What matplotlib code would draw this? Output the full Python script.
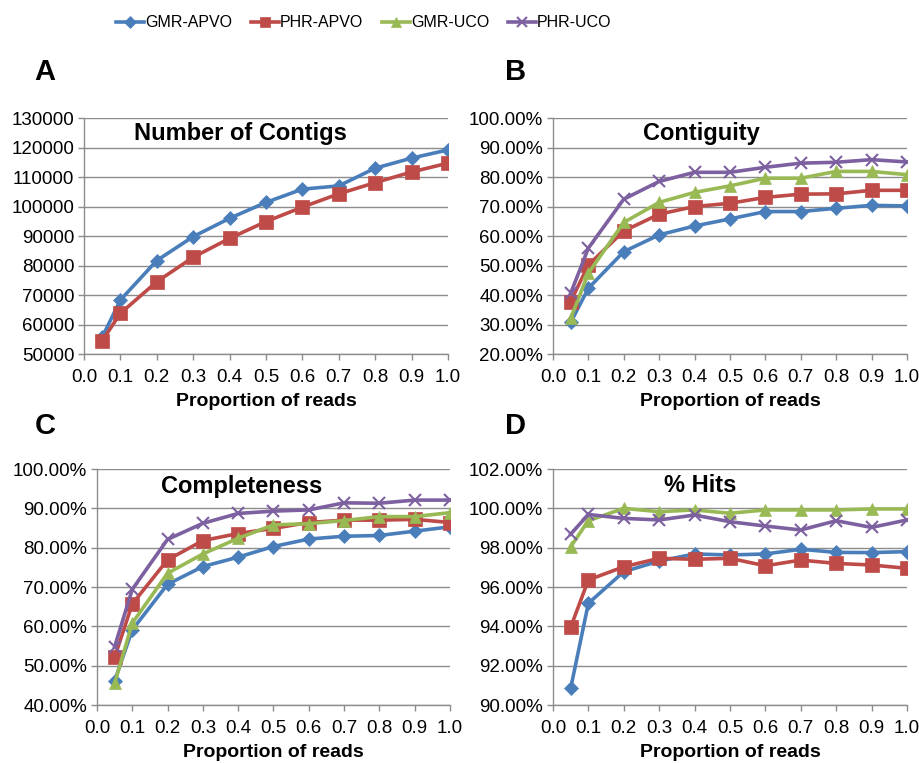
import matplotlib
matplotlib.use('Agg')
import matplotlib.pyplot as plt
from matplotlib.ticker import FuncFormatter
from matplotlib import font_manager
import numpy as np

plt.rcParams['font.family'] = ['Liberation Sans', 'DejaVu Sans']

# proportion of reads
props = [0.05, 0.1, 0.2, 0.3, 0.4, 0.5, 0.6, 0.7, 0.8, 0.9, 1.0]

# A: number of contigs
contigs_gmr_apvo = [55700, 68300, 81700, 89800, 96000, 101400, 105900, 107000, 113000, 116400, 119200]
contigs_phr_apvo = [54500, 63800, 74500, 82800, 89200, 94900, 99800, 104300, 108100, 111700, 114700]

# B: contiguity (%)
contig_gmr_apvo = [30.7, 42.3, 54.7, 60.4, 63.4, 65.8, 68.3, 68.3, 69.4, 70.4, 70.2]
contig_phr_apvo = [37.8, 50.2, 61.7, 67.4, 70.0, 71.1, 73.1, 74.2, 74.3, 75.5, 75.5]
contig_gmr_uco = [32.1, 47.4, 64.6, 71.4, 74.8, 77.0, 79.6, 79.6, 81.9, 81.9, 80.8]
contig_phr_uco = [40.6, 55.9, 72.5, 78.5, 81.6, 81.6, 83.3, 84.7, 85.0, 85.9, 85.1]

# C: completeness (%)
compl_gmr_apvo = [46.1, 59.1, 70.7, 75.2, 77.6, 80.3, 82.2, 82.9, 83.1, 84.2, 85.3]
compl_phr_apvo = [52.1, 65.7, 76.9, 81.8, 83.6, 84.9, 86.4, 87.0, 87.0, 87.2, 86.4]
compl_gmr_uco = [45.5, 60.8, 73.5, 78.4, 82.4, 85.8, 86.1, 86.9, 87.9, 87.9, 88.9]
compl_phr_uco = [54.8, 69.4, 82.1, 86.2, 88.7, 89.3, 89.6, 91.4, 91.3, 92.1, 92.1]

# D: % hits
hits_gmr_apvo = [90.85, 95.17, 96.78, 97.32, 97.68, 97.63, 97.68, 97.92, 97.76, 97.75, 97.80]
hits_phr_apvo = [93.95, 96.36, 97.03, 97.46, 97.41, 97.46, 97.08, 97.37, 97.20, 97.12, 96.95]
hits_gmr_uco = [98.05, 99.37, 100.0, 99.83, 99.92, 99.75, 99.92, 99.92, 99.92, 99.97, 99.97]
hits_phr_uco = [98.69, 99.69, 99.49, 99.41, 99.66, 99.32, 99.10, 98.90, 99.37, 99.03, 99.41]

names = ['GMR-APVO', 'PHR-APVO', 'GMR-UCO', 'PHR-UCO']
colors = ['#4A7EBB', '#BE4B48', '#98B954', '#7D60A0']
markers = ['D', 's', '^', 'x']
msizes = [7.5, 9.5, 9, 9]

fig = plt.figure(figsize=(9.19, 7.63), dpi=100)

axA = fig.add_axes([0.0914, 0.5360, 0.396, 0.3093])
axB = fig.add_axes([0.6017, 0.5360, 0.3852, 0.3093])
axC = fig.add_axes([0.1055, 0.0760, 0.3841, 0.3093])
axD = fig.add_axes([0.6017, 0.0760, 0.3852, 0.3093])


def draw(ax, series):
    lines = []
    for i, ys in enumerate(series):
        l, = ax.plot(props, ys, color=colors[i], lw=2.6, marker=markers[i],
                     ms=msizes[i], mew=1.5 if markers[i] == 'x' else 0.5,
                     mec=colors[i], label=names[i], zorder=3 + i)
        lines.append(l)
    return lines


def style(ax, ylo, yhi, ystep, title, tx, ty, pct=True):
    ax.set_xlim(0, 1.0)
    ax.set_ylim(ylo, yhi)
    ax.set_xticks(np.arange(0, 1.01, 0.1))
    ax.xaxis.set_major_formatter(FuncFormatter(lambda v, p: '%.1f' % v))
    ax.set_yticks(np.arange(ylo, yhi + ystep / 2, ystep))
    if pct:
        ax.yaxis.set_major_formatter(FuncFormatter(lambda v, p: '%.2f%%' % v))
    else:
        ax.yaxis.set_major_formatter(FuncFormatter(lambda v, p: '%d' % v))
    ax.grid(axis='y', color='#8c8c8c', lw=1.0)
    ax.set_axisbelow(True)
    for s in ['top', 'right']:
        ax.spines[s].set_visible(False)
    for s in ['left', 'bottom']:
        ax.spines[s].set_color('#8c8c8c')
        ax.spines[s].set_linewidth(1.0)
    ax.tick_params(axis='both', colors='#8c8c8c', labelcolor='black',
                   labelsize=13.5, length=4, width=1.0)
    ax.tick_params(axis='x', pad=7)
    ax.tick_params(axis='y', pad=3)
    ax.text(tx, ty, title, transform=ax.transAxes, ha='center', va='center',
            fontsize=17, fontweight='bold')
    ax.set_xlabel('Proportion of reads', fontsize=14, fontweight='bold', labelpad=5)


lines = draw(axA, [contigs_gmr_apvo, contigs_phr_apvo])
style(axA, 50000, 130000, 10000, 'Number of Contigs', 0.43, 0.935, pct=False)

lines = draw(axB, [contig_gmr_apvo, contig_phr_apvo, contig_gmr_uco, contig_phr_uco])
style(axB, 20, 100, 10, 'Contiguity', 0.42, 0.935)

draw(axC, [compl_gmr_apvo, compl_phr_apvo, compl_gmr_uco, compl_phr_uco])
style(axC, 40, 100, 10, 'Completeness', 0.41, 0.925)

draw(axD, [hits_gmr_apvo, hits_phr_apvo, hits_gmr_uco, hits_phr_uco])
style(axD, 90, 102, 2, '% Hits', 0.415, 0.93)

for lab, x, y in [('A', 0.049, 0.905), ('B', 0.561, 0.905), ('C', 0.049, 0.442), ('D', 0.561, 0.442)]:
    fig.text(x, y, lab, fontsize=21, fontweight='bold', ha='center', va='center')

# legend text is a condensed face in the original
installed = {f.name for f in font_manager.fontManager.ttflist}
leg_family = 'Liberation Sans Narrow' if 'Liberation Sans Narrow' in installed else 'Liberation Sans'
leg_size = 13.5 if leg_family == 'Liberation Sans Narrow' else 11.5

fig.legend(handles=lines, labels=names, loc='center', bbox_to_anchor=(0.396, 0.970),
           ncol=4, frameon=False, prop={'family': leg_family, 'size': leg_size},
           handlelength=1.75, handletextpad=0.05, columnspacing=1.2, markerscale=0.8)

fig.savefig('out.png', dpi=100)
